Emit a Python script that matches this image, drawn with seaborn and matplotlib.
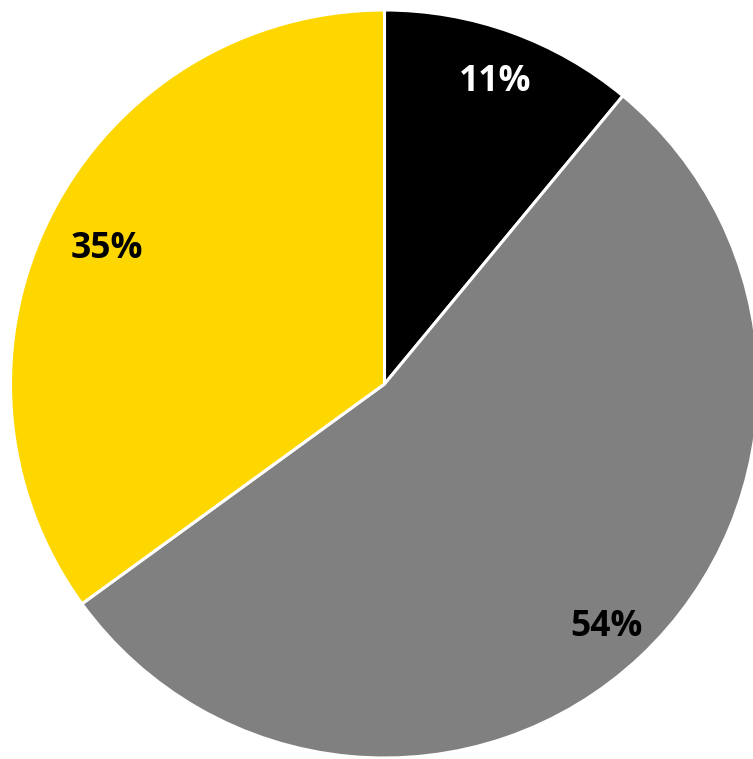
import matplotlib
matplotlib.use("Agg")
import matplotlib.pyplot as plt
import numpy as np
import seaborn as sns

# Share of responses by category
categories = ["Black", "Grey", "Yellow"]
shares = [11, 54, 35]
slice_colors = ["#000000", "#808080", "#FFD700"]
label_colors = ["white", "black", "black"]

sns.set_theme(style="white")
plt.rcParams["font.family"] = ["Open Sans", "DejaVu Sans"]

W, H = 753, 759
fig = plt.figure(figsize=(W / 100, H / 100), dpi=100)
ax = fig.add_axes([0, 0, 1, 1])

cx, cy, r = 384.5, H - 384, 374
wedges, texts, autotexts = ax.pie(
    shares,
    colors=sns.color_palette(slice_colors),
    startangle=90,
    counterclock=False,
    center=(cx, cy),
    radius=r,
    autopct=lambda p: f"{p:.0f}%",
    pctdistance=0.86,
    wedgeprops=dict(edgecolor="white", linewidth=2.2),
    textprops=dict(fontsize=25.5, fontweight="bold"),
)

# radial placement of each percentage label (black, grey, yellow), as a fraction of the radius
label_dist = [0.877, 0.866, 0.833]
for w, t, c, d in zip(wedges, autotexts, label_colors, label_dist):
    t.set_color(c)
    t.set_verticalalignment("center_baseline")
    ang = np.deg2rad((w.theta1 + w.theta2) / 2)
    t.set_position((cx + d * r * np.cos(ang), cy + d * r * np.sin(ang) - 2))

ax.set_xlim(0, W)
ax.set_ylim(0, H)
ax.set_aspect("equal")
ax.axis("off")

fig.savefig("out.png", dpi=100, facecolor="white")
